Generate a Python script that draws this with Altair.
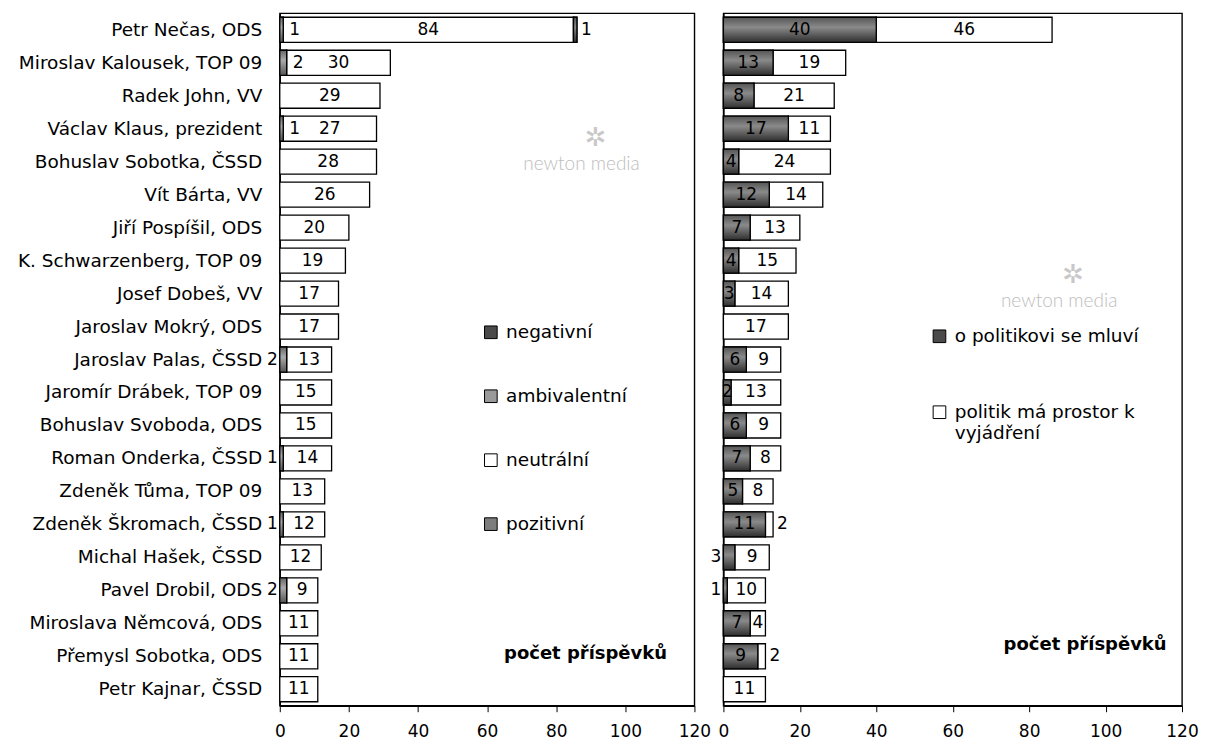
import altair as alt
import pandas as pd

names = [
    "Petr Nečas, ODS", "Miroslav Kalousek, TOP 09", "Radek John, VV",
    "Václav Klaus, prezident", "Bohuslav Sobotka, ČSSD", "Vít Bárta, VV",
    "Jiří Pospíšil, ODS", "K. Schwarzenberg, TOP 09", "Josef Dobeš, VV",
    "Jaroslav Mokrý, ODS", "Jaroslav Palas, ČSSD", "Jaromír Drábek, TOP 09",
    "Bohuslav Svoboda, ODS", "Roman Onderka, ČSSD", "Zdeněk Tůma, TOP 09",
    "Zdeněk Škromach, ČSSD", "Michal Hašek, ČSSD", "Pavel Drobil, ODS",
    "Miroslava Němcová, ODS", "Přemysl Sobotka, ODS", "Petr Kajnar, ČSSD",
]

# left panel: tone of coverage
left_pos = [1, 2, 0, 1, 0, 0, 0, 0, 0, 0, 2, 0, 0, 1, 0, 1, 0, 2, 0, 0, 0]
left_neu = [84, 30, 29, 27, 28, 26, 20, 19, 17, 17, 13, 15, 15, 14, 13, 12, 12, 9, 11, 11, 11]
left_amb = [0] * 21
left_neg = [1, 0, 0, 0, 0, 0, 0, 0, 0, 0, 0, 0, 0, 0, 0, 0, 0, 0, 0, 0, 0]

# right panel: role of the politician
right_talk = [40, 13, 8, 17, 4, 12, 7, 4, 3, 0, 6, 2, 6, 7, 5, 11, 3, 1, 7, 9, 0]
right_speak = [46, 19, 21, 11, 24, 14, 13, 15, 14, 17, 9, 13, 9, 8, 8, 2, 9, 10, 4, 2, 11]

left_series = ["negativní", "ambivalentní", "neutrální", "pozitivní"]
right_series = ["o politikovi se mluví", "politik má prostor k|vyjádření"]

# label placement style (per row)
left_pos_place = ["in", "in", "", "in", "", "", "", "", "", "", "out", "", "",
                  "out", "", "out", "", "out", "", "", ""]
left_neg_place = ["after"] + [""] * 20
right_talk_place = ["center"] * 21
right_talk_place[16] = "out"
right_talk_place[17] = "out"
right_speak_place = ["center"] * 21
right_speak_place[15] = "after"
right_speak_place[19] = "after"

FONT = "DejaVu Sans"
NAME_SIZE = 18.5
NUM_SIZE = 17


def build(stack):
    rows = []
    for i, n in enumerate(names):
        start = 0
        for sname, vals, places in stack:
            v = vals[i]
            if v > 0:
                rows.append(dict(name=n, series=sname, start=start, end=start + v,
                                 mid=start + v / 2, value=v, place=places[i]))
                start += v
    return pd.DataFrame(rows)


left_df = build([
    ("pozitivní", left_pos, left_pos_place),
    ("neutrální", left_neu, ["center"] * 21),
    ("ambivalentní", left_amb, ["center"] * 21),
    ("negativní", left_neg, left_neg_place),
])
right_df = build([
    (right_series[0], right_talk, right_talk_place),
    (right_series[1], right_speak, right_speak_place),
])


def grad(c0, c1, c2):
    return alt.Gradient(gradient="linear", x1=0, y1=0, x2=0, y2=1,
                        stops=[alt.GradientStop(offset=0, color=c0),
                               alt.GradientStop(offset=0.4, color=c1),
                               alt.GradientStop(offset=1, color=c2)])


def panel(df, domain, colors, grads, width, show_names, leg_x, leg_y, row_pad,
          wm_x, wm_y, note_x, note_y):
    yaxis = alt.Axis(title=None, ticks=False, labelFont=FONT, labelFontSize=NAME_SIZE,
                     labelPadding=18, labelLimit=400, domainColor="black",
                     labelColor="black", labels=show_names, domainWidth=1.4)
    y = alt.Y("name:N", sort=names,
              scale=alt.Scale(paddingInner=0.24, paddingOuter=0.12), axis=yaxis)
    xscale = alt.Scale(domain=[0, 120], nice=False)
    xaxis = alt.Axis(title=None, values=[0, 20, 40, 60, 80, 100, 120], grid=False,
                     tickSize=6, tickColor="black", domainColor="black",
                     labelFont=FONT, labelFontSize=NUM_SIZE, labelPadding=12,
                     labelColor="black", domainWidth=1.4, labelFlush=False)
    base = alt.Chart(df)
    bars = base.mark_bar(stroke="black", strokeWidth=1.3).encode(
        y=y,
        x=alt.X("start:Q", scale=xscale, axis=xaxis),
        x2="end:Q",
        color=alt.Color("series:N", scale=alt.Scale(domain=domain, range=colors),
                        legend=alt.Legend(orient="none", legendX=leg_x, legendY=leg_y,
                                          title=None, symbolType="square",
                                          symbolSize=160, symbolStrokeColor="black",
                                          symbolStrokeWidth=1, labelFont=FONT,
                                          labelFontSize=NAME_SIZE, labelColor="black",
                                          rowPadding=row_pad, padding=0, labelOffset=6,
                                          labelLimit=400,
                                          labelExpr="split(datum.label, '|')")),
    )
    layers = [bars]
    for s, g in grads.items():
        layers.append(
            base.transform_filter(alt.datum.series == s)
            .mark_bar(fill=g, stroke="black", strokeWidth=1.3)
            .encode(y=y, x=alt.X("start:Q", scale=xscale), x2="end:Q")
        )
    tcfg = dict(font=FONT, fontSize=NUM_SIZE, color="black", baseline="middle")
    layers.append(base.transform_filter(alt.datum.place == "center")
                  .mark_text(align="center", **tcfg)
                  .encode(y=y, x=alt.X("mid:Q", scale=xscale), text="value:Q"))
    layers.append(base.transform_filter(alt.datum.place == "after")
                  .mark_text(align="left", dx=4, **tcfg)
                  .encode(y=y, x=alt.X("end:Q", scale=xscale), text="value:Q"))
    layers.append(base.transform_filter(alt.datum.place == "in")
                  .mark_text(align="left", dx=6, **tcfg)
                  .encode(y=y, x=alt.X("end:Q", scale=xscale), text="value:Q"))
    layers.append(base.transform_filter(alt.datum.place == "out")
                  .mark_text(align="right", dx=-2, **tcfg)
                  .encode(y=y, x=alt.X("start:Q", scale=xscale), text="value:Q"))
    wm = alt.Chart(pd.DataFrame({"t": ["newton media"]})).mark_text(
        font="Lato", fontSize=19, fontWeight=300, color="#bdbdbd", align="center",
        baseline="middle").encode(x=alt.value(wm_x), y=alt.value(wm_y), text="t:N")
    logo = alt.Chart(pd.DataFrame({"t": ["✲"]})).mark_text(
        font=FONT, fontSize=26, color="#c8c8c8", align="center",
        baseline="middle").encode(x=alt.value(wm_x + 14), y=alt.value(wm_y - 26), text="t:N")
    note = alt.Chart(pd.DataFrame({"t": ["počet příspěvků"]})).mark_text(
        font=FONT, fontSize=18, fontWeight="bold", color="black", align="center",
        baseline="middle").encode(x=alt.value(note_x), y=alt.value(note_y), text="t:N")
    layers += [wm, logo, note]
    return alt.layer(*layers).properties(width=width, height=693)


left = panel(left_df, left_series, ["#4a4a4a", "#9a9a9a", "white", "#7d7d7d"],
             {"negativní": grad("#555", "#888", "#2e2e2e"),
              "ambivalentní": grad("#777", "#d8d8d8", "#6a6a6a"),
              "pozitivní": grad("#666", "#aaa", "#555")},
             415, True, 202, 310, 45, 302, 151, 306, 641)
right = panel(right_df, right_series, ["#4a4a4a", "white"],
              {right_series[0]: grad("#555", "#8a8a8a", "#2e2e2e")},
              459, False, 207, 314, 57, 336, 288, 362, 632)

chart = alt.hconcat(left, right, spacing=29, bounds="flush").resolve_scale(
    color="independent"
).resolve_legend(color="independent").properties(
    padding={"left": 8, "top": 4, "right": 0, "bottom": 0}
).configure_view(stroke="black", strokeWidth=1.4)

chart.save("out.html", embed_options={"renderer": "svg", "actions": False})
